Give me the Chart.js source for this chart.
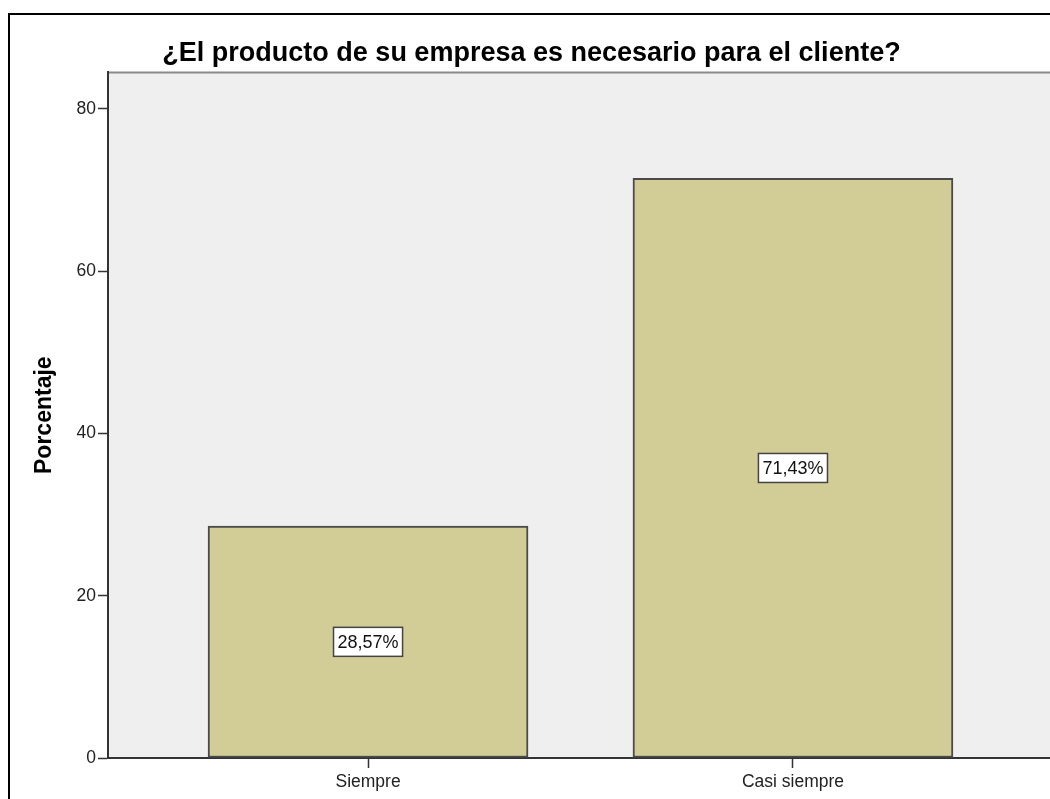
<!DOCTYPE html>
<html lang="es">
<head>
<meta charset="utf-8">
<title>¿El producto de su empresa es necesario para el cliente?</title>
<script src="https://cdn.jsdelivr.net/npm/chart.js@4.4.1/dist/chart.umd.min.js"></script>
<style>
  html, body { margin: 0; padding: 0; background: #fff; overflow: hidden; }
  #frame {
    position: absolute; left: 8px; top: 13px;
    width: 1050px; height: 830px;
    border: 2px solid #000;
    background: #fff;
  }
  #chart { display: block; }
</style>
</head>
<body>
<div id="frame"><canvas id="chart" width="1050" height="784"></canvas></div>
<script>
// Respuestas y porcentajes
const categories = ['Siempre', 'Casi siempre'];
const percentages = [28.57, 71.43];
const yTicks = [0, 20, 40, 60, 80];

const titleText = '¿El producto de su empresa es necesario para el cliente?';
const yTitle = 'Porcentaje';

Chart.defaults.font.family = '"Liberation Sans", Arial, sans-serif';
Chart.defaults.color = '#222';

const fmt = v => v.toFixed(2).replace('.', ',') + '%';

// grey plot background with a thin frame on top/right
const plotBackground = {
  id: 'plotBackground',
  beforeDraw(chart) {
    const { ctx, chartArea: a } = chart;
    ctx.save();
    ctx.fillStyle = '#EFEFEF';
    ctx.fillRect(a.left, a.top, a.right - a.left, a.bottom - a.top);
    ctx.strokeStyle = '#8a8a8a';
    ctx.lineWidth = 2;
    ctx.beginPath();
    ctx.moveTo(a.left, a.top);
    ctx.lineTo(a.right, a.top);
    ctx.lineTo(a.right, a.bottom);
    ctx.stroke();
    ctx.restore();
  }
};

// boxed percentage label in the middle of each bar
const barLabels = {
  id: 'barLabels',
  afterDatasetsDraw(chart) {
    const { ctx } = chart;
    const meta = chart.getDatasetMeta(0);
    ctx.save();
    ctx.font = '18px "Liberation Sans", Arial, sans-serif';
    ctx.textAlign = 'center';
    ctx.textBaseline = 'middle';
    meta.data.forEach((bar, i) => {
      const text = fmt(percentages[i]);
      const cx = bar.x;
      const cy = (bar.y + bar.base) / 2;
      const w = ctx.measureText(text).width + 8;
      const h = 29;
      ctx.fillStyle = '#fff';
      ctx.fillRect(cx - w / 2, cy - h / 2, w, h);
      ctx.strokeStyle = '#444';
      ctx.lineWidth = 1.5;
      ctx.strokeRect(cx - w / 2, cy - h / 2, w, h);
      ctx.fillStyle = '#111';
      ctx.fillText(text, cx, cy + 1);
    });
    ctx.restore();
  }
};

new Chart(document.getElementById('chart'), {
  type: 'bar',
  data: {
    datasets: [{
      data: categories.map((c, i) => ({ x: i + 1, y: percentages[i] })),
      backgroundColor: '#D2CD97',
      borderColor: '#4a4a4a',
      borderWidth: 2,
      borderSkipped: false,
      barThickness: 320
    }]
  },
  options: {
    responsive: false,
    animation: false,
    layout: { padding: { left: 0, right: 7, top: 0, bottom: 0 } },
    plugins: {
      legend: { display: false },
      tooltip: { enabled: false },
      title: {
        display: true,
        text: titleText,
        color: '#000',
        font: { size: 27, weight: 'bold' },
        padding: { top: 22, bottom: 3 }
      }
    },
    scales: {
      x: {
        type: 'linear',
        offset: false,
        min: 0.388,
        max: 2.612,
        afterBuildTicks: scale => {
          scale.ticks = categories.map((c, i) => ({ value: i + 1 }));
        },
        afterFit: scale => { scale.height = 41; },
        ticks: {
          autoSkip: false,
          maxRotation: 0,
          padding: 4,
          color: '#222',
          font: { size: 17.5 },
          callback: v => categories[v - 1]
        },
        grid: {
          offset: false,
          drawOnChartArea: false,
          drawTicks: true,
          tickLength: 10,
          tickColor: '#333',
          tickWidth: 1.5
        },
        border: { display: true, color: '#333', width: 2 }
      },
      y: {
        min: 0,
        max: 84.5,
        afterBuildTicks: scale => {
          scale.ticks = yTicks.map(v => ({ value: v }));
        },
        afterFit: scale => { scale.width = 98; },
        ticks: {
          padding: 2,
          color: '#222',
          font: { size: 17.5 }
        },
        grid: {
          drawOnChartArea: false,
          drawTicks: true,
          tickLength: 10,
          tickColor: '#333',
          tickWidth: 1.5
        },
        border: { display: true, color: '#333', width: 2 },
        title: {
          display: true,
          text: yTitle,
          color: '#000',
          font: { size: 23, weight: 'bold' },
          padding: { top: 21, bottom: 0 }
        }
      }
    }
  },
  plugins: [plotBackground, barLabels]
});
</script>
</body>
</html>
